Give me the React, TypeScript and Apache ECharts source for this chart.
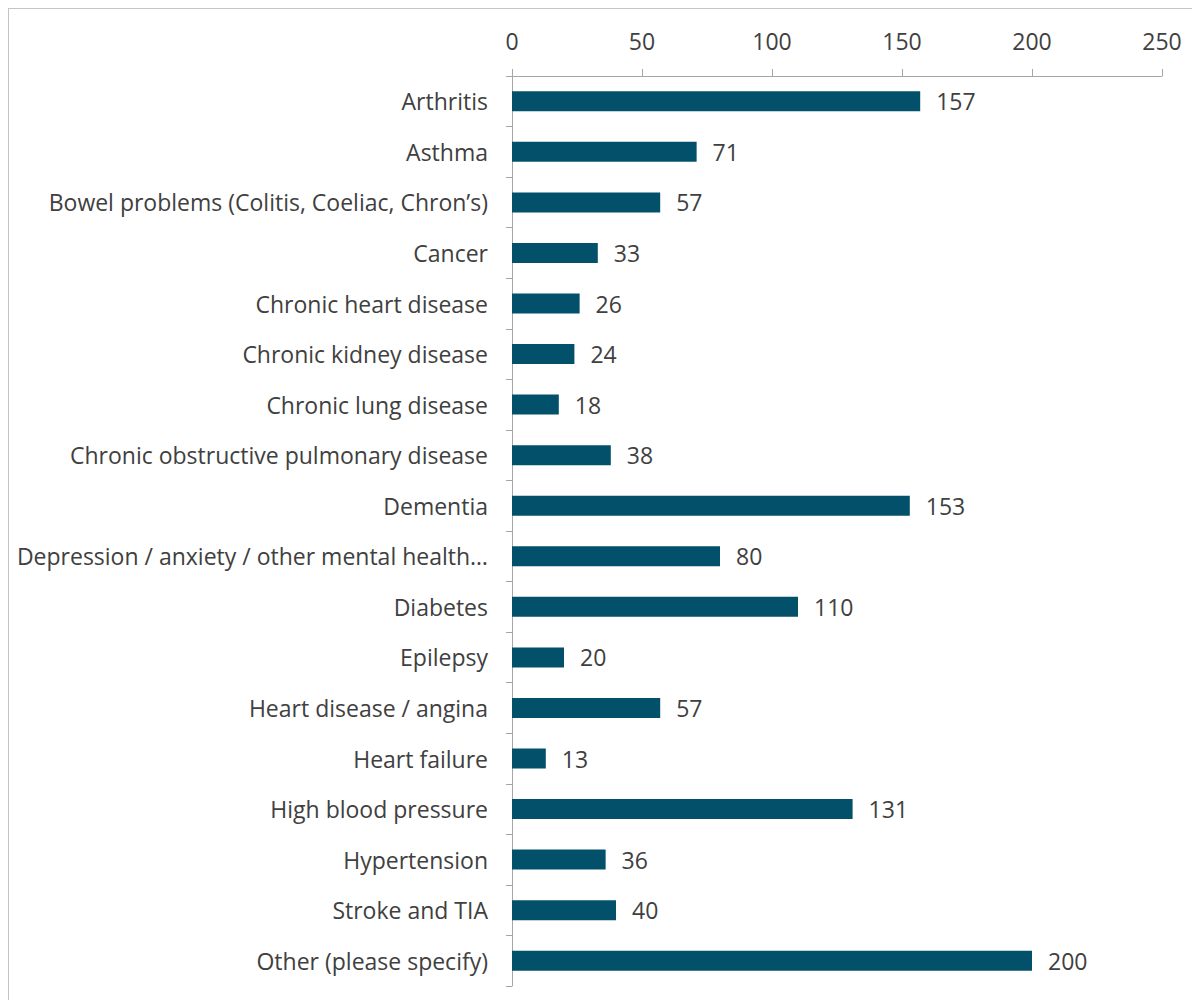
import React, { useEffect, useRef } from "react";
import * as echarts from "echarts";

const categories = [
  "Arthritis",
  "Asthma",
  "Bowel problems (Colitis, Coeliac, Chron’s)",
  "Cancer",
  "Chronic heart disease",
  "Chronic kidney disease",
  "Chronic lung disease",
  "Chronic obstructive pulmonary disease",
  "Dementia",
  "Depression / anxiety / other mental health…",
  "Diabetes",
  "Epilepsy",
  "Heart disease / angina",
  "Heart failure",
  "High blood pressure",
  "Hypertension",
  "Stroke and TIA",
  "Other (please specify)",
];

const counts = [157, 71, 57, 33, 26, 24, 18, 38, 153, 80, 110, 20, 57, 13, 131, 36, 40, 200];

const axisMin = 0;
const axisMax = 250;
const axisStep = 50;

const FONT = "'Open Sans', Lato, sans-serif";
const FONT_SIZE = 23;
const TEXT = "#404040";
const BAR = "#02506a";
const AXIS = "#a6a6a6";

export default function App() {
  const ref = useRef<HTMLDivElement>(null);

  useEffect(() => {
    if (!ref.current) return;
    const chart = echarts.init(ref.current, null, { renderer: "svg" });
    chart.setOption({
      animation: false,
      graphic: [
        {
          type: "rect",
          shape: { x: 0, y: 0, width: 1250, height: 1050 },
          style: { fill: "none", stroke: "#c4c4c4", lineWidth: 2 },
          silent: true,
        },
      ],
      grid: { left: 504, right: 30, top: 68, bottom: 14 },
      xAxis: {
        type: "value",
        position: "top",
        min: axisMin,
        max: axisMax,
        interval: axisStep,
        axisLine: { show: true, lineStyle: { color: AXIS, width: 1 } },
        axisTick: { show: true, length: 7, lineStyle: { color: AXIS } },
        splitLine: { show: false },
        axisLabel: { fontFamily: FONT, fontSize: FONT_SIZE, color: TEXT, margin: 24 },
      },
      yAxis: {
        type: "category",
        inverse: true,
        data: categories,
        axisLine: { show: true, lineStyle: { color: AXIS, width: 1 } },
        axisTick: { show: true, length: 6, lineStyle: { color: AXIS } },
        axisLabel: { fontFamily: FONT, fontSize: FONT_SIZE, color: TEXT, margin: 24 },
      },
      series: [
        {
          type: "bar",
          data: counts,
          barWidth: 20,
          itemStyle: { color: BAR },
          label: {
            show: true,
            position: "right",
            distance: 16,
            fontFamily: FONT,
            fontSize: FONT_SIZE,
            color: TEXT,
          },
        },
      ],
    });
    return () => chart.dispose();
  }, []);

  return <div ref={ref} style={{ width: 1184, height: 992 }} />;
}
